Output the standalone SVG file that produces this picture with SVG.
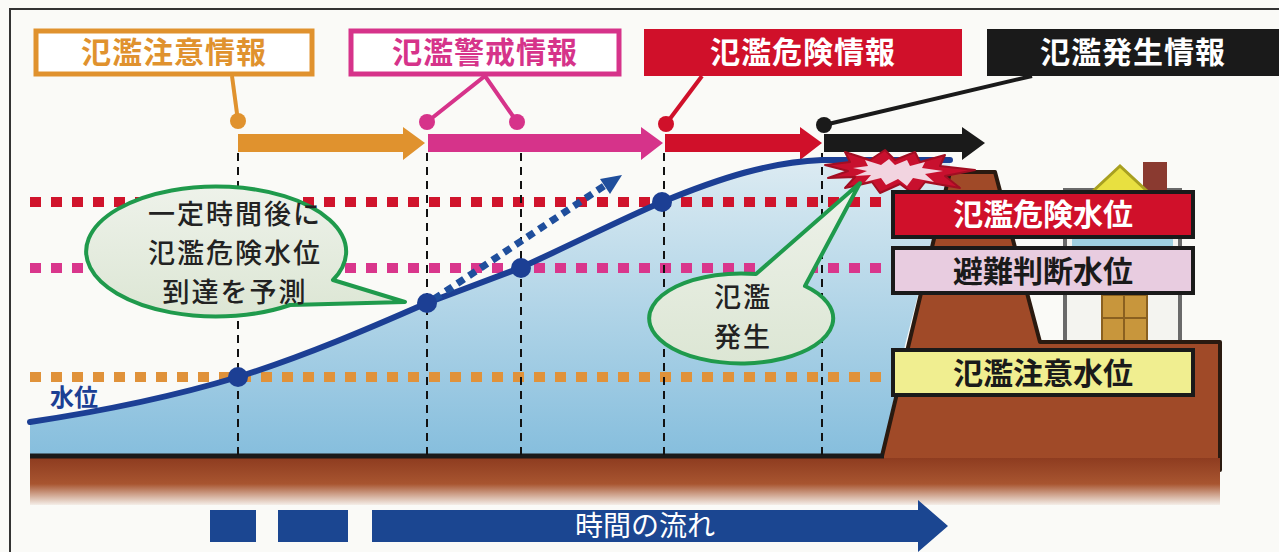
<svg xmlns="http://www.w3.org/2000/svg" width="1279" height="552" viewBox="0 0 1279 552">
  <defs>
    <linearGradient id="water" x1="0" y1="0" x2="0" y2="1">
      <stop offset="0" stop-color="#DCEBF2"/>
      <stop offset="1" stop-color="#86BEDD"/>
    </linearGradient>
    <linearGradient id="soil" x1="0" y1="0" x2="0" y2="1">
      <stop offset="0" stop-color="#8E3C20"/>
      <stop offset="0.55" stop-color="#A85530"/>
      <stop offset="1" stop-color="#F4EEE8"/>
    </linearGradient>
    <linearGradient id="bubble" x1="0" y1="0" x2="0" y2="1">
      <stop offset="0" stop-color="#EEF2EA"/>
      <stop offset="1" stop-color="#DCE6D4"/>
    </linearGradient>
    <style>
      .jp { font-family: "Noto Sans CJK JP", "Noto Sans", sans-serif; font-weight: bold; text-anchor: middle; }
      .head { font-size: 30px; letter-spacing: 1px; }
      .lvl { font-size: 30px; }
      .bub { font-size: 27px; letter-spacing: 2px; font-weight: 500; fill: #222; }
      .axis { font-size: 28px; font-weight: normal; fill: #FFFFFF; }
      .vline { stroke: #111; stroke-width: 2; stroke-dasharray: 8 6; fill: none; }
      .dots { stroke-width: 10; stroke-dasharray: 11 10; fill: none; }
      .bubshape { fill: url(#bubble); stroke: #1F9A4C; stroke-width: 4; stroke-linejoin: round; }
      .lvlbox { stroke: #1A1A1A; stroke-width: 4; }
    </style>
  </defs>

  <!-- paper and frame -->
  <rect x="0" y="0" width="1279" height="552" fill="#FAFAF7"/>
  <path d="M10,552 V9 H1279" fill="none" stroke="#333" stroke-width="2"/>

  <!-- river water under the level curve -->
  <path d="M30,422 C110,410 175,396 238,377 C305,356 370,328 427,303 L520,268 C575,243 620,220 662,202 C720,178 770,162 822,160 L950,160 L950,172 L905,345 L882,456 L30,456 Z" fill="url(#water)"/>

  <!-- house behind the levee -->
  <g id="house">
    <rect x="1065" y="190" width="115" height="152" fill="#F4F4F0" stroke="#6A6A6A" stroke-width="4"/>
    <rect x="1072" y="236" width="101" height="14" fill="#9FD0E0"/>
    <rect x="1102" y="295" width="45" height="47" fill="#C8963C" stroke="#8A6020" stroke-width="2"/>
    <line x1="1124" y1="295" x2="1124" y2="342" stroke="#8A6020" stroke-width="2"/>
    <line x1="1102" y1="318" x2="1147" y2="318" stroke="#8A6020" stroke-width="2"/>
    <rect x="1143" y="162" width="24" height="32" fill="#8A3A30"/>
    <polygon points="1092,192 1120,166 1148,192" fill="#E8E040" stroke="#A8A020" stroke-width="3"/>
  </g>

  <!-- levee and ground -->
  <g id="ground">
    <path d="M882,456 L950,172 L995,172 L1040,342 L1220,342 L1220,470 L882,470 Z" fill="#A04A28" stroke="#2A1A10" stroke-width="4" stroke-linejoin="round"/>
    <rect x="30" y="458" width="1190" height="47" fill="url(#soil)"/>
    <line x1="30" y1="456" x2="884" y2="456" stroke="#1A1A1A" stroke-width="5"/>
  </g>

  <!-- warning level lines -->
  <g id="levels">
    <line class="dots" x1="30" y1="202" x2="893" y2="202" stroke="#D0142C"/>
    <line class="dots" x1="30" y1="268" x2="893" y2="268" stroke="#D9368C"/>
    <line class="dots" x1="30" y1="377" x2="893" y2="377" stroke="#E0923A"/>
  </g>

  <!-- connectors: time marks, leaders and arrows -->
  <g id="connectors">
    <line class="vline" x1="238" y1="153" x2="238" y2="455"/>
    <line class="vline" x1="427" y1="153" x2="427" y2="455"/>
    <line class="vline" x1="521" y1="153" x2="521" y2="455"/>
    <line class="vline" x1="664" y1="153" x2="664" y2="455"/>
    <line class="vline" x1="822" y1="153" x2="822" y2="455"/>

    <line x1="232" y1="76" x2="238" y2="121" stroke="#E0922E" stroke-width="4"/>
    <circle cx="238" cy="121" r="8" fill="#E0922E"/>
    <polyline points="427,122 485,76 517,122" fill="none" stroke="#D6338A" stroke-width="4"/>
    <circle cx="427" cy="122" r="8" fill="#D6338A"/>
    <circle cx="517" cy="122" r="8" fill="#D6338A"/>
    <line x1="702" y1="76" x2="666" y2="124" stroke="#D0102A" stroke-width="4"/>
    <circle cx="666" cy="124" r="8" fill="#D0102A"/>
    <line x1="1032" y1="76" x2="824" y2="125" stroke="#1A1A1A" stroke-width="4"/>
    <circle cx="824" cy="125" r="8" fill="#1A1A1A"/>

    <path d="M238,134 H403 V127 L425,143 L403,160 V152 H238 Z" fill="#E0922E"/>
    <path d="M428,134 H641 V127 L663,143 L641,160 V152 H428 Z" fill="#D6338A"/>
    <path d="M665,134 H800 V127 L822,143 L800,160 V152 H665 Z" fill="#D0102A"/>
    <path d="M824,134 H962 V127 L985,143 L962,160 V152 H824 Z" fill="#1A1A1A"/>
  </g>

  <!-- water level curve -->
  <g id="curve">
    <path d="M30,422 C110,410 175,396 238,377 C305,356 370,328 427,303 L520,268 C575,243 620,220 662,202 C720,178 770,162 822,160 L950,160" fill="none" stroke="#1C3F94" stroke-width="6" stroke-linecap="round"/>
    <line x1="434" y1="299" x2="604" y2="186" stroke="#1F4E9C" stroke-width="7" stroke-dasharray="8 6"/>
    <polygon points="622,175 610,194 600,179" fill="#1F4E9C"/>
    <circle cx="238" cy="377" r="10" fill="#1C3F94"/>
    <circle cx="427" cy="303" r="10" fill="#1C3F94"/>
    <circle cx="521" cy="268" r="10" fill="#1C3F94"/>
    <circle cx="662" cy="202" r="10" fill="#1C3F94"/>
    <text class="jp" x="74" y="406" font-size="24" fill="#1C3F94">水位</text>
  </g>

  <!-- overtopping burst -->
  <g id="burst">
    <polygon points="825,165 850,162 845,152 870,160 885,150 895,160 915,152 920,162 945,155 940,166 975,170 945,176 960,188 925,182 915,195 900,184 880,193 872,182 845,188 855,177 828,178 848,171" fill="#C8102E" stroke="#A00E22" stroke-width="2" stroke-linejoin="round"/>
    <polygon points="853,168 868,166 865,160 881,165 889,159 895,165 907,160 910,166 925,162 922,168 943,171 925,174 934,182 913,178 907,186 898,179 886,185 881,178 865,182 871,175 855,176 867,171" fill="#F2D4E0"/>
  </g>

  <!-- level name plates -->
  <g id="level-danger">
    <rect class="lvlbox" x="893" y="192" width="300" height="45" fill="#D0102A"/>
    <text class="jp lvl" x="1043" y="225" fill="#FFFFFF">氾濫危険水位</text>
  </g>
  <g id="level-evacuate">
    <rect class="lvlbox" x="893" y="248" width="300" height="45" fill="#E8CCE0"/>
    <text class="jp lvl" x="1043" y="282" fill="#1A1A1A">避難判断水位</text>
  </g>
  <g id="level-caution">
    <rect class="lvlbox" x="893" y="350" width="300" height="45" fill="#F0EE90"/>
    <text class="jp lvl" x="1043" y="384" fill="#1A1A1A">氾濫注意水位</text>
  </g>

  <!-- speech bubbles -->
  <g id="bubble-forecast">
    <path class="bubshape" d="M333,280 L405,302 L290,305 A130,65 0 1 1 333,280 Z"/>
    <text class="jp bub" x="235" y="224">一定時間後に</text>
    <text class="jp bub" x="235" y="263">氾濫危険水位</text>
    <text class="jp bub" x="235" y="302">到達を予測</text>
  </g>
  <g id="bubble-flood">
    <path class="bubshape" d="M756,274 L860,183 L805,286 A92,45 0 1 1 756,274 Z"/>
    <text class="jp bub" x="743" y="307">氾濫</text>
    <text class="jp bub" x="743" y="347">発生</text>
  </g>

  <!-- information headings -->
  <g id="info-caution">
    <rect x="36" y="31" width="276" height="43" fill="#FFFFFF" stroke="#E0922E" stroke-width="5"/>
    <text class="jp head" x="174" y="63" fill="#E0922E">氾濫注意情報</text>
  </g>
  <g id="info-warning">
    <rect x="351" y="31" width="268" height="43" fill="#FFFFFF" stroke="#D6338A" stroke-width="5"/>
    <text class="jp head" x="485" y="63" fill="#D6338A">氾濫警戒情報</text>
  </g>
  <g id="info-danger">
    <rect x="644" y="29" width="318" height="47" fill="#D0102A"/>
    <text class="jp head" x="803" y="63" fill="#FFFFFF">氾濫危険情報</text>
  </g>
  <g id="info-occurred">
    <rect x="987" y="29" width="292" height="47" fill="#1A1A1A"/>
    <text class="jp head" x="1133" y="63" fill="#FFFFFF">氾濫発生情報</text>
  </g>

  <!-- time axis -->
  <g id="time-axis">
    <rect x="210" y="510" width="46" height="32" fill="#1B4691"/>
    <rect x="278" y="510" width="70" height="32" fill="#1B4691"/>
    <path d="M372,510 H918 V500 L948,526 L918,552 V542 H372 Z" fill="#1B4691"/>
    <text class="jp axis" x="645" y="536">時間の流れ</text>
  </g>
</svg>
